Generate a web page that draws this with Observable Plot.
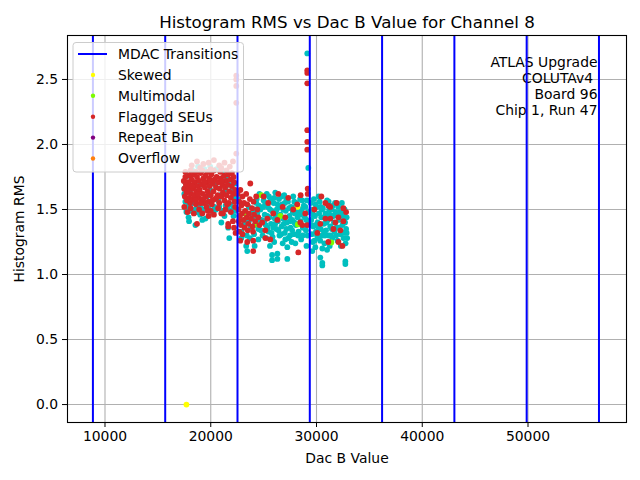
<!DOCTYPE html>
<html>
<head>
<meta charset="utf-8">
<script src="https://cdn.jsdelivr.net/npm/d3@7"></script>
<script src="https://cdn.jsdelivr.net/npm/@observablehq/plot@0.6"></script>
<style>
  body { margin: 0; background: white; }
  #chart { width: 640px; height: 480px; }
</style>
</head>
<body>
<div id="chart"></div>
<script>
const title = "Histogram RMS vs Dac B Value for Channel 8";
const xLabel = "Dac B Value";
const yLabel = "Histogram RMS";
const annotation = ["ATLAS Upgrade", "COLUTAv4\u00a0", "Board 96", "Chip 1, Run 47"];
const xTicks = [10000, 20000, 30000, 40000, 50000];
const yTicks = [0.0, 0.5, 1.0, 1.5, 2.0, 2.5];
const mdacTransitions = [8857, 15693, 22529, 29366, 36202, 43038, 49874, 56711];

// unflagged points (cyan)
const normalPts = [
  [17500,1.62],[17600,1.56],[17700,1.50],[17900,1.53],[18100,1.49],[18250,1.55],[18550,1.50],[18800,1.48],[19000,1.52],[19300,1.50],
  [19600,1.55],[19750,1.51],[20050,1.49],[20350,1.52],[20500,1.50],[20800,1.52],[21100,1.49],[21400,1.53],[21650,1.50],[21850,1.54],
  [22150,1.51],[22250,1.59],[22050,1.65],[21750,1.69],[21450,1.75],[21100,1.80],[20550,1.81],[19950,1.83],[19400,1.81],[18800,1.83],
  [18250,1.80],[17800,1.76],[17600,1.71],[17900,1.44],[17950,1.41],[18550,1.38],[19000,1.46],[19500,1.43],[21650,1.36],[21750,1.28],
  [21300,1.45],[20250,1.48],[18650,1.48],[22350,1.49],[20900,1.61],[19950,1.65],[19000,1.69],[18050,1.63],[20450,1.69],[21400,1.65],
  [17700,1.48],[19650,1.60],[20700,1.57],[22150,1.45],[17500,1.66],[18400,1.58],[21000,1.40],[19200,1.42],[22300,1.70],
  [22600,1.58],[22700,1.45],[22900,1.33],[23200,1.40],[23400,1.30],[23600,1.52],[23800,1.36],[24000,1.44],[24100,1.31],[24300,1.55],
  [24400,1.47],[24500,1.35],[24600,1.62],[24700,1.50],[24800,1.42],[24900,1.30],[25000,1.57],[25100,1.46],[25200,1.38],[25300,1.62],
  [25400,1.52],[25450,1.33],[25550,1.44],[25650,1.58],[25700,1.39],[25800,1.49],[25850,1.29],[25950,1.55],[26050,1.43],[26100,1.63],
  [26200,1.35],[26250,1.50],[26350,1.41],[26450,1.58],[26500,1.30],[26600,1.46],[26700,1.37],[26750,1.54],[26850,1.43],[26950,1.61],
  [27000,1.32],[27100,1.49],[27200,1.40],[27300,1.56],[27350,1.28],[27450,1.45],[27550,1.36],[27600,1.52],[27700,1.42],[27800,1.60],
  [27850,1.31],[27950,1.47],[28050,1.38],[28100,1.55],[28200,1.44],[28300,1.33],[28400,1.50],[28500,1.41],[28550,1.27],[28650,1.57],
  [28750,1.46],[28850,1.36],[28950,1.52],[29050,1.42],[29150,1.30],[29200,1.48],
  [24200,1.50],[24650,1.40],[24950,1.52],[25250,1.28],[25500,1.60],[25900,1.36],[26150,1.47],[26550,1.52],[26900,1.39],[27150,1.58],
  [27500,1.30],[27750,1.48],[28000,1.52],[28250,1.30],[28450,1.58],[28700,1.36],[28900,1.44],[29100,1.57],[26000,1.25],[27050,1.27],
  [24500,1.27],[25600,1.22],[27900,1.40],[26400,1.34],[28600,1.50],[25350,1.45],[26700,1.60],[23700,1.28],[24150,1.22],[27650,1.25],
  [24350,1.58],[24550,1.53],[24750,1.34],[25050,1.41],[25150,1.55],[25350,1.36],[25600,1.50],[25750,1.32],[26000,1.59],[26100,1.39],
  [26300,1.54],[26450,1.45],[26650,1.31],[26850,1.50],[27000,1.55],[27150,1.35],[27400,1.51],[27500,1.41],[27700,1.34],[27900,1.56],
  [28150,1.48],[28350,1.39],[28450,1.46],[28700,1.30],[28800,1.53],[29000,1.34],[29250,1.40],[23900,1.47],[24150,1.38],[23600,1.41],
  [23450,1.18],[23350,1.22],[26300,1.16],[26300,1.12],[27240,1.21],[27240,1.12],[25800,1.15],[25800,1.11],[22900,1.28],[26800,1.24],
  [28000,1.24],[29050,1.22],
  [29450,1.55],[29500,1.42],[29550,1.31],[29600,1.49],[29700,1.37],[29750,1.58],[29800,1.26],[29850,1.45],[29950,1.33],[30000,1.52],
  [30100,1.40],[30150,1.28],[30250,1.47],[30300,1.56],[30400,1.35],[30450,1.44],[30550,1.30],[30600,1.51],[30700,1.39],[30750,1.24],
  [30850,1.47],[30900,1.34],[31000,1.57],[31050,1.42],[31150,1.30],[31200,1.50],[31300,1.37],[31400,1.45],[31500,1.28],[31550,1.53],
  [31650,1.40],[31700,1.33],[31800,1.48],[31900,1.36],[32000,1.26],[32050,1.52],[32150,1.42],[32250,1.31],[32350,1.47],[32450,1.38],
  [32550,1.28],[32650,1.50],[32750,1.24],[32800,1.35],[32850,1.44],
  [29500,1.50],[29900,1.38],[30200,1.60],[30500,1.50],[30800,1.30],[31100,1.45],[31450,1.35],[31750,1.55],[32100,1.36],[32400,1.55],
  [32600,1.32],[32900,1.28],[29650,1.25],[30350,1.26],[31250,1.22],[32300,1.22],
  [29550,1.38],[29700,1.46],[29900,1.54],[30050,1.30],[30200,1.36],[30400,1.52],[30650,1.44],[30700,1.33],[30950,1.40],[31150,1.56],
  [31250,1.46],[31450,1.50],[31600,1.45],[31850,1.30],[32000,1.46],[32200,1.48],[32500,1.45],[32700,1.40],[32850,1.32],[31350,1.30],
  [30360,1.13],[30550,1.07],[30550,1.09],[32730,1.08],[32730,1.10],[30550,1.20],[29890,1.21],[29600,1.18],[31000,1.19],
  [29130,2.70],[29225,1.82]
];

// Flagged SEUs (red)
const seuPts = [
  [17450,1.72],[17500,1.66],[17550,1.60],[17600,1.75],[17650,1.69],[17700,1.63],[17750,1.57],[17850,1.71],[17900,1.66],[17950,1.59],
  [18000,1.76],[18050,1.55],[18100,1.69],[18150,1.62],[18200,1.73],[18300,1.58],[18350,1.66],[18400,1.77],[18450,1.61],[18500,1.71],
  [18600,1.54],[18650,1.64],[18700,1.75],[18750,1.68],[18850,1.59],[18900,1.72],[18950,1.65],[19050,1.78],[19100,1.57],[19150,1.69],
  [19250,1.62],[19300,1.74],[19350,1.55],[19450,1.67],[19500,1.76],[19550,1.60],[19650,1.71],[19700,1.64],[19800,1.56],[19850,1.74],
  [19900,1.68],[20000,1.61],[20050,1.77],[20100,1.54],[20200,1.70],[20250,1.64],[20350,1.73],[20400,1.58],[20500,1.67],[20550,1.75],
  [20650,1.61],[20700,1.71],[20800,1.55],[20850,1.66],[20950,1.74],[21000,1.60],[21100,1.69],[21150,1.63],[21250,1.76],[21300,1.57],
  [21350,1.67],[21450,1.72],[21500,1.61],[21600,1.69],[21700,1.55],[21750,1.64],[21850,1.73],[21900,1.59],[22000,1.68],[22100,1.62],
  [22200,1.71],[22250,1.56],[22300,1.65],
  [17500,1.52],[17800,1.48],[18100,1.51],[18400,1.47],[18900,1.50],[19200,1.47],[19600,1.52],[20000,1.49],[20300,1.46],[20700,1.51],
  [21000,1.47],[21400,1.50],[21900,1.48],[22300,1.52],[17600,1.79],[18100,1.80],[18600,1.79],[19200,1.80],[19700,1.79],[20300,1.80],
  [20900,1.79],[21500,1.80],[22000,1.78],[17800,1.64],[18250,1.68],[18800,1.62],[19400,1.71],[19950,1.72],[20550,1.59],[21050,1.72],
  [21650,1.77],[22150,1.75],[18550,1.57],[20150,1.57],[21550,1.54],[19050,1.55],
  [19700,1.49],[19800,1.45],[18700,1.39],[21150,1.47],[21650,1.39],[19300,1.58],[22100,1.41],[22200,1.36],[21655,1.37],[22350,1.32],
  [18200,1.84],[18700,1.87],[19300,1.85],[19800,1.86],[20300,1.88],[20800,1.84],[21300,1.86],[21800,1.83],[22100,1.87],[19000,1.82],
  [20000,1.81],[21000,1.82],
  [22415,2.53],[22415,2.50],[22415,2.45],[22415,2.32],[22415,1.93],
  [22550,1.62],[22600,1.50],[22650,1.41],[22700,1.56],[22750,1.45],[22800,1.65],[22850,1.38],[22900,1.53],[22950,1.47],[23000,1.60],
  [23100,1.42],[23150,1.55],[23200,1.36],[23250,1.49],[23350,1.62],[23400,1.44],[23450,1.54],[23550,1.39],[23600,1.47],[23700,1.58],
  [23740,1.70],[23800,1.43],[23900,1.51],[23950,1.37],[24050,1.56],[24100,1.46],[24200,1.41],[24300,1.60],[24400,1.50],[24500,1.44],
  [24600,1.38],[22700,1.33],[23000,1.31],[23500,1.34],[24000,1.33],
  [26390,1.62],[27330,1.59],[28180,1.54],[25440,1.55],[25350,1.43],[26300,1.42],[27050,1.44],[25910,1.47],[28660,1.38],[28940,1.47],
  [24870,1.40],[25160,1.34],[25000,1.60],[26800,1.52],[27800,1.50],[28500,1.61],
  [22790,1.26],[23450,1.25],[24020,1.26],[24020,1.18],[25160,1.28],[25630,1.27],[28280,1.17],
  [29130,2.57],[29130,2.55],[29130,2.47],[29130,2.11],[29130,2.02],[29130,1.96],
  [29170,1.66],[29170,1.62],[30460,1.60],[30840,1.55],[31120,1.53],[31300,1.52],[32540,1.51],[30840,1.43],[31310,1.43],[31790,1.40],
  [32070,1.44],[32540,1.41],[31600,1.35],[32260,1.34],[32070,1.25],[32450,1.22],[31120,1.25],[29130,1.38],[28470,1.40],[30080,1.32],
  [30360,1.39],[32800,1.48],[31900,1.55],[29800,1.50]
];

const multimodalPts = [[24780,1.61],[24305,1.385],[28230,1.385],[31405,1.246],[23080,1.47],[26580,1.45]];
const skewedPts = [[17700,0.0],[28200,1.52]];
const repeatBinPts = [];
const overflowPts = [];

const font = "DejaVu Sans";
const fs = 13.9;
const dotR = 2.9;

const svg = Plot.plot({
  width: 640,
  height: 480,
  marginTop: 35,
  marginBottom: 58,
  marginLeft: 67,
  marginRight: 14,
  style: { fontFamily: font, fontSize: fs + "px", background: "white", color: "black" },
  x: { domain: [6454, 59314] },
  y: { domain: [-0.138, 2.838] },
  marks: [
    Plot.gridX(xTicks, { stroke: "#b0b0b0", strokeOpacity: 1, strokeWidth: 1.1 }),
    Plot.gridY(yTicks, { stroke: "#b0b0b0", strokeOpacity: 1, strokeWidth: 1.1 }),
    Plot.dot(normalPts, { x: d => d[0], y: d => d[1], r: dotR, fill: "#00bfbf", stroke: "none" }),
    Plot.dot(skewedPts, { x: d => d[0], y: d => d[1], r: dotR, fill: "#ffff00", stroke: "none" }),
    Plot.dot(multimodalPts, { x: d => d[0], y: d => d[1], r: dotR, fill: "#7cfc00", stroke: "none" }),
    Plot.dot(seuPts, { x: d => d[0], y: d => d[1], r: dotR, fill: "#d62728", stroke: "none" }),
    Plot.dot(repeatBinPts, { x: d => d[0], y: d => d[1], r: dotR, fill: "#800080", stroke: "none" }),
    Plot.dot(overflowPts, { x: d => d[0], y: d => d[1], r: dotR, fill: "#ff7f0e", stroke: "none" }),
    Plot.text([annotation.join("\n")], { frameAnchor: "top-right", dx: -29, dy: 20, textAnchor: "end", lineAnchor: "top", lineHeight: 1.15, fontSize: fs, fill: "black" }),
    Plot.ruleX(mdacTransitions, { stroke: "blue", strokeWidth: 2 }),
    Plot.frame({ stroke: "black", strokeWidth: 1.1 }),
    Plot.axisX(xTicks, { tickSize: 5, tickPadding: 3.5, tickFormat: d => String(d), fontSize: fs, label: xLabel, labelAnchor: "center", labelArrow: "none", labelOffset: 40 }),
    Plot.axisY(yTicks, { tickSize: 5, tickPadding: 4.5, tickFormat: d3.format(".1f"), fontSize: fs, label: yLabel, labelAnchor: "center", labelArrow: "none", labelOffset: 53 }),
    Plot.text([title], { frameAnchor: "top", dy: -19, fontSize: 16.7, fill: "black" })
  ]
});

// legend overlay (matplotlib-style, semi-transparent box)
const legendItems = [
  { label: "MDAC Transitions", kind: "line", color: "blue" },
  { label: "Skewed", kind: "dot", color: "#ffff00" },
  { label: "Multimodal", kind: "dot", color: "#7cfc00" },
  { label: "Flagged SEUs", kind: "dot", color: "#d62728" },
  { label: "Repeat Bin", kind: "dot", color: "#800080" },
  { label: "Overflow", kind: "dot", color: "#ff7f0e" }
];
const s = d3.select(svg);
const lg = s.append("g").attr("transform", "translate(73,42.5)");
lg.append("rect").attr("width", 170.5).attr("height", 129.5).attr("rx", 3)
  .attr("fill", "white").attr("fill-opacity", 0.8)
  .attr("stroke", "#cccccc").attr("stroke-width", 1);
legendItems.forEach((it, i) => {
  const yy = 11.5 + i * 20.9;
  if (it.kind === "line") {
    lg.append("line").attr("x1", 5).attr("x2", 34).attr("y1", yy).attr("y2", yy)
      .attr("stroke", it.color).attr("stroke-width", 2);
  } else {
    lg.append("circle").attr("cx", 20).attr("cy", yy).attr("r", 2.2).attr("fill", it.color).attr("stroke", "none");
  }
  lg.append("text").attr("x", 45).attr("y", yy).attr("dy", "0.35em")
    .attr("text-anchor", "start")
    .attr("font-family", font).attr("font-size", fs).attr("fill", "black").text(it.label);
});

document.getElementById("chart").appendChild(svg);
</script>
</body>
</html>
